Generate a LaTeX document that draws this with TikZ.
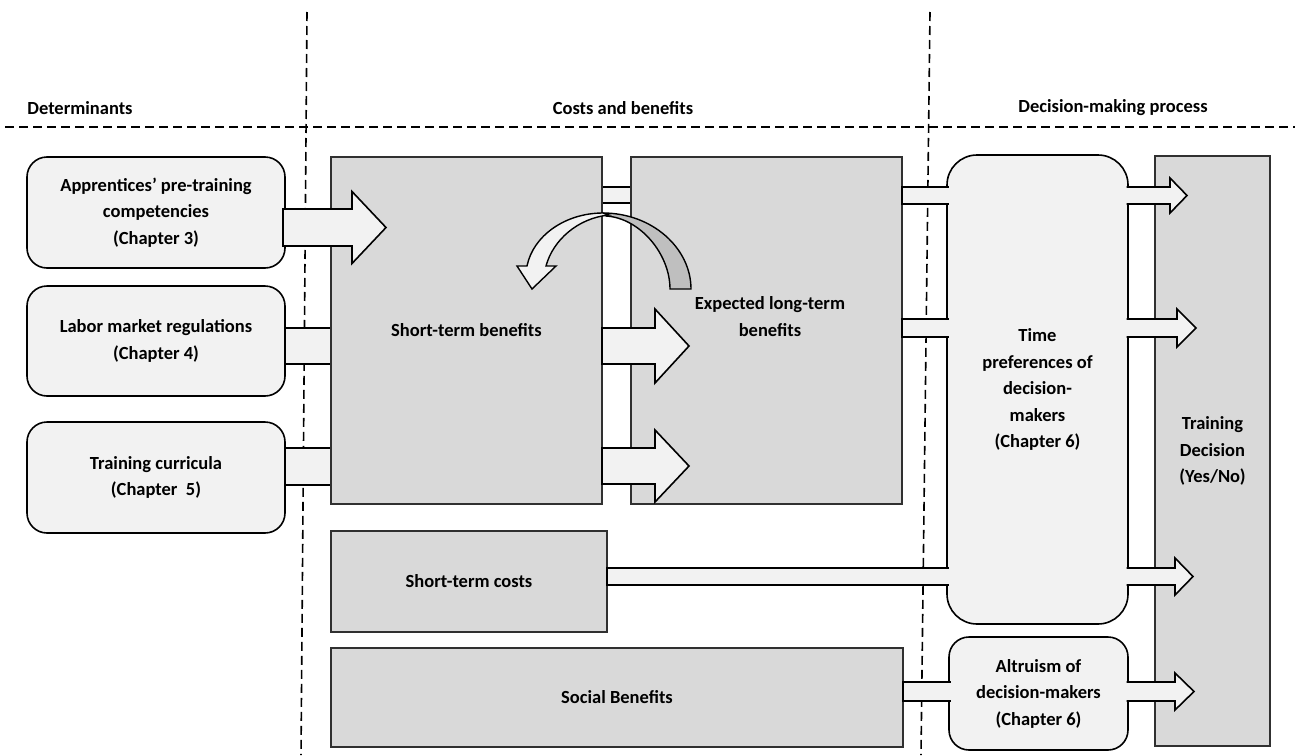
\documentclass[tikz,border=0pt]{standalone}
\usepackage{fontspec}
\setmainfont{Carlito}
\definecolor{lightf}{HTML}{F2F2F2}
\definecolor{grayf}{HTML}{D9D9D9}
\definecolor{darkf}{HTML}{BFBFBF}
\definecolor{edgec}{HTML}{303030}
\tikzset{
  txt/.style={font=\fontsize{18.5}{26.5}\selectfont\bfseries, align=center, text=black, inner sep=0pt},
  rbox/.style={draw=black, line width=1.6pt, fill=lightf, rounded corners=20pt, inner sep=0pt, txt},
  gbox/.style={draw=edgec, line width=1.2pt, fill=grayf, inner sep=0pt, txt},
  arr/.style={draw=black, line width=1.6pt, fill=lightf, line join=miter},
  thinarr/.style={draw=black, line width=1.2pt, fill=lightf},
  sep/.style={draw=black, dash pattern=on 9pt off 5pt, line width=1.6pt},
}
% closed block arrow: style, x0, head base x, tip x, y centre, shaft half, head half
\newcommand\BlockArrow[7]{%
  \filldraw[#1] (#2,#5-#6) -- (#3,#5-#6) -- (#3,#5-#7) -- (#4,#5) -- (#3,#5+#7) -- (#3,#5+#6) -- (#2,#5+#6) -- cycle;}
% block arrow open at its left end
\newcommand\BlockArrowOpen[7]{%
  \filldraw[#1] (#2,#5-#6) -- (#3,#5-#6) -- (#3,#5-#7) -- (#4,#5) -- (#3,#5+#7) -- (#3,#5+#6) -- (#2,#5+#6);}
% shaft open at its right end: style, x0, x1, y top, y bottom
\newcommand\ShaftOpen[5]{%
  \filldraw[#1] (#3,#4) -- (#2,#4) -- (#2,#5) -- (#3,#5);}
\begin{document}
\begin{tikzpicture}[x=1pt,y=-1pt]
\useasboundingbox (0,0) rectangle (1295,755);
% separators
\coordinate (s1t) at (307,12); \coordinate (s1b) at (301,755);
\coordinate (s2t) at (930,12); \coordinate (s2b) at (921,755);
\coordinate (hl) at (5,127); \coordinate (hr) at (1295,127);
\draw[sep] (s1t) -- (s1b);
\draw[sep] (s2t) -- (s2b);
\draw[sep] (hl) -- (hr);
\node[txt] (h1) at (80,108) {Determinants};
\node[txt] (h2) at (623,108) {Costs and benefits};
\node[txt] (h3) at (1113,108) {Decision-making process};

% shafts lying behind the boxes
\filldraw[arr] (280,328) rectangle (336,364);
\filldraw[arr] (280,448) rectangle (336,485);
\filldraw[thinarr] (598,187) rectangle (635,203);

% boxes
\node[rbox, minimum width=258pt, minimum height=111pt] (b1) at (156,212.5)
  {Apprentices’ pre-training\\competencies\\(Chapter 3)};
\node[rbox, minimum width=258pt, minimum height=110pt] (b2) at (156,341)
  {Labor market regulations\\(Chapter 4)};
\node[rbox, minimum width=258pt, minimum height=111pt] (b3) at (156,477.5)
  {Training curricula\\(Chapter~ 5)};
\node[gbox, minimum width=271pt, minimum height=347pt] (stb) at (466.5,330.5) {Short-term benefits};
\node[gbox, minimum width=271pt, minimum height=347pt] (ltb) at (766.5,330.5) {};
\node[txt] (ltbt) at (770,316.5) {Expected long-term\\benefits};
\node[gbox, minimum width=276pt, minimum height=101pt] (stc) at (469,581.5) {Short-term costs};
\node[gbox, minimum width=572pt, minimum height=99pt] (sob) at (617,697.5) {Social Benefits};
\node[rbox, rounded corners=30pt, minimum width=181pt, minimum height=469pt] (tpd) at (1037.5,389.5)
  {Time\\preferences of\\decision-\\makers\\(Chapter 6)};
\node[rbox, minimum width=179pt, minimum height=113pt] (alt) at (1038.5,693.5)
  {Altruism of\\decision-makers\\(Chapter 6)};
\node[gbox, minimum width=115pt, minimum height=590pt] (trd) at (1212.5,451)
  {Training\\Decision\\(Yes/No)};

% arrows into the benefit boxes
\BlockArrow{arr}{283}{352}{386}{227.5}{18.5}{36}
\BlockArrow{arr}{602}{655}{689}{346}{18}{37}
\BlockArrow{arr}{602}{655}{689}{466}{18}{36}

% curved arrow (long-term back to short-term)
\filldraw[arr, line width=1.4pt, fill=darkf] (603,213) .. controls (652,213) and (691,248) .. (691,289)
  -- (670,289) .. controls (670,254) and (640,218) .. (606,216) -- cycle;
\filldraw[arr, line width=1.4pt] (609,215) .. controls (578,218) and (553,240) .. (546,266)
  -- (556,266) -- (532,289) -- (517,266) -- (527,266)
  .. controls (533,236) and (565,213) .. (603,213) -- cycle;

% shafts merging into the decision-maker boxes
\ShaftOpen{arr}{902}{948.5}{187}{204}
\ShaftOpen{arr}{902}{948.5}{319}{337}
\ShaftOpen{arr}{607}{948.5}{568}{585}
\ShaftOpen{arr}{903}{950.5}{682}{701}

% arrows into the training decision
\BlockArrowOpen{arr}{1126.5}{1170}{1187}{195.5}{8.5}{17.5}
\BlockArrowOpen{arr}{1126.5}{1177}{1196}{328}{9}{19}
\BlockArrowOpen{arr}{1126.5}{1175}{1193}{576.5}{8.5}{18.5}
\BlockArrowOpen{arr}{1126.5}{1175}{1194}{691.5}{9.5}{18.5}
\end{tikzpicture}
\end{document}
